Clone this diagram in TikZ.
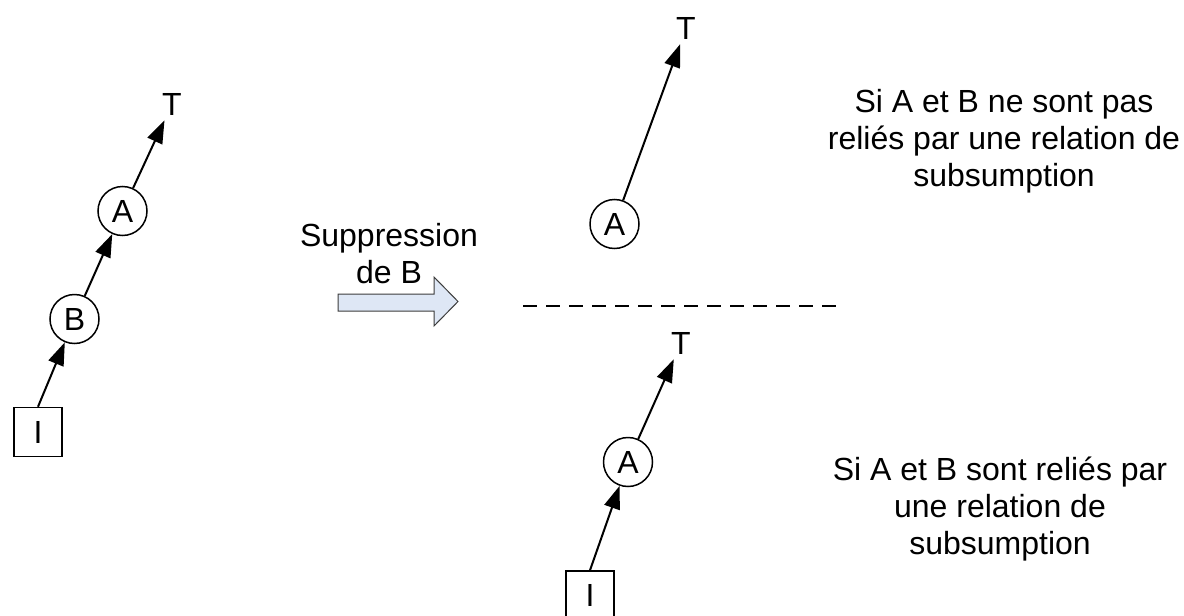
\documentclass[tikz,border=0pt]{standalone}
\usepackage{fontspec}
\setmainfont{Liberation Sans}
\usetikzlibrary{arrows.meta}
\definecolor{arrowfill}{RGB}{222,231,245}
\definecolor{arrowline}{RGB}{60,60,60}
\begin{document}
\begin{tikzpicture}[x=1pt,y=-1pt,
  every node/.style={font=\fontsize{32}{37}\selectfont},
  concept/.style={circle,draw,line width=1.5pt,minimum size=49pt,inner sep=0pt},
  leaf/.style={rectangle,draw,line width=1.5pt,minimum width=48pt,minimum height=49pt,inner sep=0pt},
  topnode/.style={inner sep=5pt},
  link/.style={line width=2pt,-{Triangle[length=23pt,width=16pt]}},
  txt/.style={align=center}]
\useasboundingbox (0,0) rectangle (1184,616);

% initial hierarchy: I -> B -> A -> T
\node[leaf]    (i1) at (38,432)    {I};
\node[concept] (b1) at (74.5,319)  {B};
\node[concept] (a1) at (122.5,211) {A};
\node[topnode] (t1) at (172,104)   {T};
\draw[link] (i1.north) -- (b1);
\draw[link] (b1) -- (a1);
\draw[link] (a1) -- (t1);

% operation label and block arrow
\node[txt] (op) at (389,254) {Suppression\\de B};
\draw[arrowline,fill=arrowfill,line width=1pt]
  (338,294) -- (434,294) -- (434,277) -- (458,301.5) -- (434,326)
  -- (434,311) -- (338,311) -- cycle;

% first outcome
\node[concept] (a2) at (614.5,224) {A};
\node[topnode] (t2) at (686,28)    {T};
\draw[link] (a2) -- (t2);
\node[txt] (c1) at (1004,141) {Si A et B ne sont pas\\reliés par une relation de\\subsumption};

% separator
\draw[line width=2pt,dash pattern=on 14pt off 9pt] (523,306) -- (838,306);

% second outcome
\node[leaf]    (i3) at (590,595.5) {I};
\node[concept] (a3) at (628,462)   {A};
\node[topnode] (t3) at (681,343)   {T};
\draw[link] (i3.north) -- (a3);
\draw[link] (a3) -- (t3);
\node[txt] (c2) at (1000,509) {Si A et B sont reliés par\\une relation de\\subsumption};
\end{tikzpicture}
\end{document}
